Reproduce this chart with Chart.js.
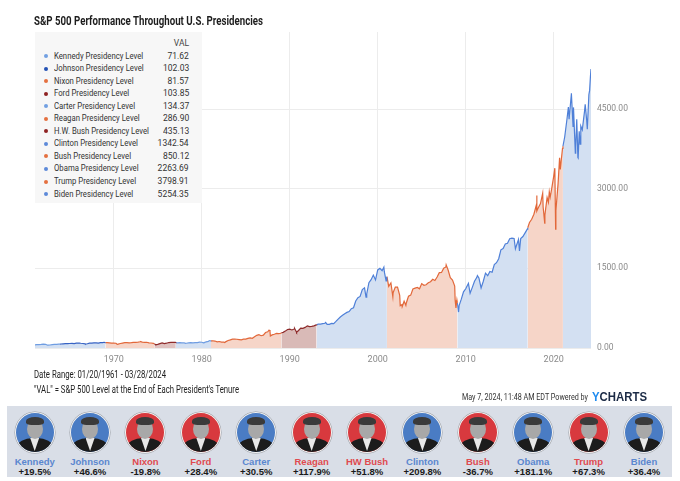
<!DOCTYPE html>
<html>
<head>
<meta charset="utf-8">
<script src="https://cdn.jsdelivr.net/npm/chart.js@4.4.1/dist/chart.umd.min.js"></script>
<style>
  html, body { margin: 0; padding: 0; background: #fff; }
  body { width: 680px; height: 481px; position: relative; overflow: hidden; font-family: Roboto, sans-serif; color: #222; }
  .sq { display: inline-block; white-space: nowrap; transform-origin: left center; }
  #title { position: absolute; left: 34px; top: 13px; font-size: 12.5px; font-weight: bold; color: #1d1d1d; }
  #wrap { position: absolute; left: 0; top: 0; width: 680px; height: 370px; }
  #legend { position: absolute; left: 35px; top: 32px; width: 167px; height: 171px; background: #f7f7f7;
            font-size: 9.5px; color: #333; box-sizing: border-box; padding-top: 5px; }
  .lrow { position: relative; height: 12.55px; line-height: 12.55px; }
  .lrow .dot { position: absolute; left: 9px; top: 4.5px; width: 4px; height: 4px; border-radius: 50%; }
  .lrow .nm { position: absolute; left: 19px; top: 0; }
  .lrow .vl { position: absolute; right: 13px; top: 0; transform-origin: right center; }
  .note { position: absolute; left: 34px; font-size: 10px; line-height: 12px; color: #222; }
  #stamp { position: absolute; left: 462px; top: 392px; font-size: 8.5px; color: #333; }
  #ych { position: absolute; left: 592px; top: 390px; font-size: 12px; font-weight: bold; font-family: "Liberation Sans", Arial, sans-serif; }
  #ych .sq { color: #1b2a45; }
  #ych .y { color: #1e8bf0; }
  #panel { position: absolute; left: 7px; top: 406px; width: 665px; height: 71px; background: #d9dee7; display: flex; }
  .cell { width: 55.4px; text-align: center; font-family: "Liberation Sans", Arial, sans-serif; }
  .oval { position: relative; width: 38px; height: 39px; margin: 6px auto 0; border-radius: 50%; border: 1px solid #f2f2f2;
          overflow: hidden; box-shadow: 0 0 0 0.5px rgba(0,0,0,.3); }
  .head { position: absolute; left: 11px; top: 6px; width: 16px; height: 20px; border-radius: 50%; background: #a8a8a8; }
  .hair { position: absolute; left: 10px; top: 4px; width: 18px; height: 8px; border-radius: 50% 50% 30% 30%; background: #3a3a3a; }
  .suit { position: absolute; left: 1px; top: 25px; width: 36px; height: 20px; border-radius: 45% 45% 0 0; background: #1c1c1c; }
  .shirt { position: absolute; left: 14.5px; top: 25px; width: 9px; height: 13px; background: #e8e8e8; clip-path: polygon(0 0, 100% 0, 50% 100%); }
  .pname { font-size: 9.5px; font-weight: bold; margin-top: 3px; line-height: 11px; }
  .pchg { font-size: 9.5px; font-weight: bold; color: #1a1a1a; line-height: 10px; }
</style>
</head>
<body>
<div id="wrap"><canvas id="chart" width="680" height="370"></canvas></div>
<div id="title"><span class="sq" data-w="229">S&amp;P 500 Performance Throughout U.S. Presidencies</span></div>
<div id="legend"></div>
<div class="note" style="top:369px"><span class="sq" data-w="132">Date Range: 01/20/1961 - 03/28/2024</span></div>
<div class="note" style="top:384px"><span class="sq" data-w="205">"VAL" = S&amp;P 500 Level at the End of Each President's Tenure</span></div>
<div id="stamp"><span class="sq" data-w="126">May 7, 2024, 11:48 AM EDT Powered by</span></div>
<div id="ych"><span class="sq" data-w="55"><span class="y">Y</span>CHARTS</span></div>
<div id="panel"></div>

<script>
// ─── Data ───
const presidents = ['Kennedy', 'Johnson', 'Nixon', 'Ford', 'Carter', 'Reagan',
                    'H.W. Bush', 'Clinton', 'Bush', 'Obama', 'Trump', 'Biden'];
const shortNames = ['Kennedy', 'Johnson', 'Nixon', 'Ford', 'Carter', 'Reagan',
                    'HW Bush', 'Clinton', 'Bush', 'Obama', 'Trump', 'Biden'];
const party   = ['D', 'D', 'R', 'R', 'D', 'R', 'R', 'D', 'R', 'D', 'R', 'D'];
const vals    = ['71.62', '102.03', '81.57', '103.85', '134.37', '286.90',
                 '435.13', '1342.54', '850.12', '2263.69', '3798.91', '5254.35'];
const changes = ['+19.5%', '+46.6%', '-19.8%', '+28.4%', '+30.5%', '+117.9%',
                 '+51.8%', '+209.8%', '-36.7%', '+181.1%', '+67.3%', '+36.4%'];
const xTicks  = [1970, 1980, 1990, 2000, 2010, 2020];
const yTicks  = [0, 1500, 3000, 4500];

// S&P 500 level, [decimal year, level], one list per term
const kennedy = [[1961.05,59.93],[1961.25,65.06],[1961.5,64.64],[1961.75,66.73],[1962.0,71.55],[1962.25,69.55],
  [1962.48,52.32],[1962.5,54.75],[1962.75,56.27],[1963.0,63.1],[1963.25,66.57],[1963.5,69.37],[1963.75,71.7],[1963.89,71.62]];
const johnson = [[1964.0,75.02],[1964.25,78.98],[1964.5,81.69],[1964.75,84.18],[1965.0,84.75],[1965.25,86.16],
  [1965.5,84.12],[1965.75,89.96],[1966.0,92.43],[1966.1,94.06],[1966.25,89.23],[1966.5,84.74],[1966.75,76.56],
  [1966.78,73.2],[1967.0,80.33],[1967.25,90.2],[1967.5,90.64],[1967.75,96.71],[1968.0,96.47],[1968.25,90.2],
  [1968.5,99.58],[1968.75,102.67],[1968.9,108.37],[1969.0,103.86],[1969.05,102.03]];
const nixon = [[1969.25,101.51],[1969.5,97.71],[1969.75,93.12],[1970.0,92.06],[1970.25,89.63],[1970.4,69.29],
  [1970.5,72.72],[1970.75,84.21],[1971.0,92.15],[1971.25,100.31],[1971.5,99.7],[1971.75,98.34],[1972.0,102.09],
  [1972.25,107.2],[1972.5,107.14],[1972.75,110.55],[1973.0,118.05],[1973.03,120.24],[1973.25,111.52],
  [1973.5,104.26],[1973.75,108.43],[1974.0,97.55],[1974.25,93.98],[1974.5,86.0],[1974.61,81.57]];
const ford = [[1974.75,63.54],[1974.76,62.28],[1975.0,68.56],[1975.25,83.36],[1975.5,95.19],[1975.75,83.87],
  [1976.0,90.19],[1976.25,102.77],[1976.5,104.28],[1976.75,105.24],[1977.0,107.46],[1977.05,103.85]];
const carter = [[1977.25,98.42],[1977.5,100.48],[1977.75,96.53],[1978.0,95.1],[1978.17,86.9],[1978.25,89.21],
  [1978.5,95.53],[1978.75,102.54],[1979.0,96.11],[1979.25,101.59],[1979.5,102.91],[1979.75,109.32],[1980.0,107.94],
  [1980.22,98.22],[1980.25,102.09],[1980.5,114.24],[1980.75,125.46],[1980.9,140.52],[1981.0,135.76],[1981.05,134.37]];
const reagan = [[1981.25,136.0],[1981.5,131.21],[1981.75,116.18],[1982.0,122.55],[1982.25,111.96],[1982.5,109.61],
  [1982.62,102.42],[1982.75,120.42],[1983.0,140.64],[1983.25,152.96],[1983.5,168.11],[1983.75,166.07],[1984.0,164.93],
  [1984.25,159.18],[1984.5,153.18],[1984.75,166.1],[1985.0,167.24],[1985.25,180.66],[1985.5,191.85],[1985.75,182.08],
  [1986.0,211.28],[1986.25,238.9],[1986.5,250.84],[1986.75,231.32],[1987.0,242.17],[1987.25,291.7],[1987.5,304.0],
  [1987.65,336.77],[1987.75,321.83],[1987.8,224.84],[1988.0,247.08],[1988.25,258.89],[1988.5,273.5],[1988.75,271.91],
  [1989.0,277.72],[1989.05,286.9]];
const hwbush = [[1989.25,294.87],[1989.5,317.98],[1989.75,349.15],[1990.0,353.4],[1990.25,339.94],[1990.5,358.02],
  [1990.55,368.95],[1990.75,306.05],[1990.78,295.46],[1991.0,330.22],[1991.25,375.22],[1991.5,371.16],[1991.75,387.86],
  [1992.0,417.09],[1992.25,403.69],[1992.5,408.14],[1992.75,417.8],[1993.0,435.71],[1993.05,435.13]];
const clinton = [[1993.25,451.67],[1993.5,450.53],[1993.75,458.93],[1994.0,466.45],[1994.08,482.0],[1994.25,445.77],
  [1994.5,444.27],[1994.75,462.71],[1995.0,459.27],[1995.25,500.71],[1995.5,544.75],[1995.75,584.41],[1996.0,615.93],
  [1996.25,645.5],[1996.5,670.63],[1996.75,687.33],[1997.0,740.74],[1997.25,757.12],[1997.5,885.14],[1997.75,947.28],
  [1998.0,970.43],[1998.25,1101.75],[1998.5,1133.84],[1998.67,957.28],[1998.75,1017.01],[1999.0,1229.23],
  [1999.25,1286.37],[1999.5,1372.71],[1999.75,1282.71],[2000.0,1469.25],[2000.25,1498.58],[2000.5,1454.6],
  [2000.7,1520.77],[2000.75,1436.51],[2000.95,1264.74],[2001.0,1320.28],[2001.05,1342.54]];
const bush = [[2001.25,1160.33],[2001.5,1224.42],[2001.72,965.8],[2001.75,1040.94],[2002.0,1148.08],[2002.25,1147.39],
  [2002.5,989.82],[2002.56,797.7],[2002.75,815.28],[2002.78,776.76],[2003.0,879.82],[2003.2,800.73],[2003.25,848.18],
  [2003.5,974.5],[2003.75,995.97],[2004.0,1111.92],[2004.25,1126.21],[2004.5,1140.84],[2004.75,1114.58],
  [2005.0,1211.92],[2005.25,1180.59],[2005.5,1191.33],[2005.75,1228.81],[2006.0,1248.29],[2006.25,1294.83],
  [2006.5,1270.2],[2006.75,1335.85],[2007.0,1418.3],[2007.25,1420.86],[2007.5,1503.35],[2007.75,1526.75],
  [2007.78,1565.15],[2008.0,1468.36],[2008.25,1322.7],[2008.5,1280.0],[2008.75,1166.36],[2008.8,899.22],
  [2008.89,752.44],[2009.0,903.25],[2009.05,850.12]];
const obama = [[2009.14,735.09],[2009.19,676.53],[2009.25,797.87],[2009.5,919.32],[2009.75,1057.08],[2010.0,1115.1],
  [2010.31,1217.28],[2010.5,1030.71],[2010.75,1141.2],[2011.0,1257.64],[2011.25,1325.83],[2011.33,1363.61],
  [2011.5,1320.64],[2011.75,1131.42],[2012.0,1257.6],[2012.25,1408.47],[2012.5,1362.16],[2012.75,1440.67],
  [2013.0,1426.19],[2013.25,1569.19],[2013.5,1606.28],[2013.75,1681.55],[2014.0,1848.36],[2014.25,1872.34],
  [2014.5,1960.23],[2014.75,1972.29],[2015.0,2058.9],[2015.25,2067.89],[2015.5,2063.11],[2015.65,1867.61],
  [2015.75,1920.03],[2016.0,2043.94],[2016.11,1829.08],[2016.25,2059.74],[2016.5,2098.86],[2016.75,2168.27],
  [2017.0,2238.83],[2017.05,2263.69]];
const trump = [[2017.25,2362.72],[2017.5,2423.41],[2017.75,2519.36],[2018.0,2673.61],[2018.07,2872.87],[2018.1,2581.0],
  [2018.25,2640.87],[2018.5,2718.37],[2018.75,2913.98],[2018.8,2656.1],[2018.98,2351.1],[2019.0,2506.85],
  [2019.25,2834.4],[2019.4,2744.45],[2019.5,2941.76],[2019.6,2840.6],[2019.75,2976.74],[2020.0,3230.78],
  [2020.13,3386.15],[2020.22,2237.4],[2020.25,2584.59],[2020.5,3100.29],[2020.67,3580.84],[2020.75,3363.0],
  [2021.0,3756.07],[2021.05,3798.91]];
const biden = [[2021.25,3972.89],[2021.5,4297.5],[2021.67,4536.95],[2021.75,4307.54],[2022.0,4766.18],[2022.01,4796.56],
  [2022.2,4170.7],[2022.25,4530.41],[2022.46,3666.77],[2022.5,3785.38],[2022.62,4305.2],[2022.75,3585.62],
  [2022.78,3577.03],[2022.9,4080.11],[2023.0,3839.5],[2023.08,4179.76],[2023.25,4109.31],[2023.5,4450.38],
  [2023.58,4588.96],[2023.75,4288.05],[2023.82,4117.37],[2024.0,4769.83],[2024.08,4845.65],[2024.17,5096.27],
  [2024.24,5254.35]];
const terms = [kennedy, johnson, nixon, ford, carter, reagan, hwbush, clinton, bush, obama, trump, biden];

// ─── Colours ───
const LINE = { D: '#4f80d8', R: '#e2683a' };
const FILL = { D: '#d3e0f2', R: '#f6d5c8' };
const lineColors = ['#6f9de2', '#3763c4', LINE.R, '#8e2b2b', '#6f9de2', LINE.R,
                    '#8e2b2b', LINE.D, LINE.R, LINE.D, LINE.R, LINE.D];
const fillColors = [FILL.D, FILL.D, FILL.R, '#dfc1bf', FILL.D, FILL.R,
                    '#d9bab7', FILL.D, FILL.R, FILL.D, FILL.R, FILL.D];
const dotColors  = ['#72a0e2', '#2452b4', '#e4703f', '#8e2222', '#72a0e2', '#e4703f',
                    '#8e2222', '#5d8ad9', '#e4703f', '#5d8ad9', '#e4703f', '#5d8ad9'];
const FONT = 'Roboto, sans-serif';

// ─── Chart ───
const datasets = terms.map((pts, i) => {
  const joined = i ? [terms[i - 1][terms[i - 1].length - 1]].concat(pts) : pts;
  return {
    label: presidents[i] + ' Presidency Level',
    data: joined.map(([x, y]) => ({ x, y })),
    borderColor: lineColors[i],
    backgroundColor: fillColors[i],
    borderWidth: 1.2,
    pointRadius: 0,
    fill: 'origin',
    tension: 0,
  };
});

new Chart(document.getElementById('chart').getContext('2d'), {
  type: 'line',
  data: { datasets },
  options: {
    responsive: false,
    animation: false,
    layout: { padding: { left: 35, top: 32, right: 0, bottom: 0 } },
    plugins: { legend: { display: false }, tooltip: { enabled: false } },
    scales: {
      x: {
        type: 'linear', min: 1961.05, max: 2024.24,
        afterBuildTicks: s => { s.ticks = xTicks.map(v => ({ value: v })); },
        afterFit: s => { s.height = 22; },
        grid: { color: '#ececec', drawTicks: false },
        border: { display: false },
        ticks: { color: '#8a8a8a', padding: 6, maxRotation: 0, font: { family: FONT, size: 9 }, callback: v => String(v) },
      },
      y: {
        position: 'right', min: 0, max: 5950,
        afterBuildTicks: s => { s.ticks = yTicks.map(v => ({ value: v })); },
        afterFit: s => { s.width = 89; },
        grid: { color: '#ececec', drawTicks: false },
        border: { display: false },
        ticks: { color: '#8a8a8a', padding: 6, font: { family: FONT, size: 8.5 }, callback: v => v.toFixed(2) },
      },
    },
  },
});

// ─── Legend table ───
const legend = document.getElementById('legend');
legend.innerHTML = `<div class="lrow"><span class="vl sq" style="color:#444">VAL</span></div>` +
  presidents.map((p, i) => `
    <div class="lrow">
      <span class="dot" style="background:${dotColors[i]}"></span>
      <span class="nm sq">${p} Presidency Level</span>
      <span class="vl sq">${vals[i]}</span>
    </div>`).join('');

// condensed look: squeeze text horizontally to the widths
function squeeze(el, w) { el.style.transform = `scaleX(${w / el.getBoundingClientRect().width})`; }
document.querySelectorAll('[data-w]').forEach(el => squeeze(el, +el.dataset.w));
const names = [...legend.querySelectorAll('.nm')];
const nameK = 95 / names[6].getBoundingClientRect().width;
names.forEach(el => { el.style.transform = `scaleX(${nameK})`; });
legend.querySelectorAll('.vl').forEach(el => { el.style.transform = `scaleX(${nameK + 0.08})`; });

// ─── Portrait strip ───
const PORTRAIT = { D: '#4a7cc4', R: '#d8393e' };
const NAMECOL  = { D: '#5b87cf', R: '#e04a4f' };
document.getElementById('panel').innerHTML = shortNames.map((n, i) => `
  <div class="cell">
    <div class="oval" style="background:${PORTRAIT[party[i]]}">
      <div class="suit"></div><div class="shirt"></div><div class="head"></div><div class="hair"></div>
    </div>
    <div class="pname" style="color:${NAMECOL[party[i]]}">${n}</div>
    <div class="pchg">${changes[i]}</div>
  </div>`).join('');
</script>
</body>
</html>
